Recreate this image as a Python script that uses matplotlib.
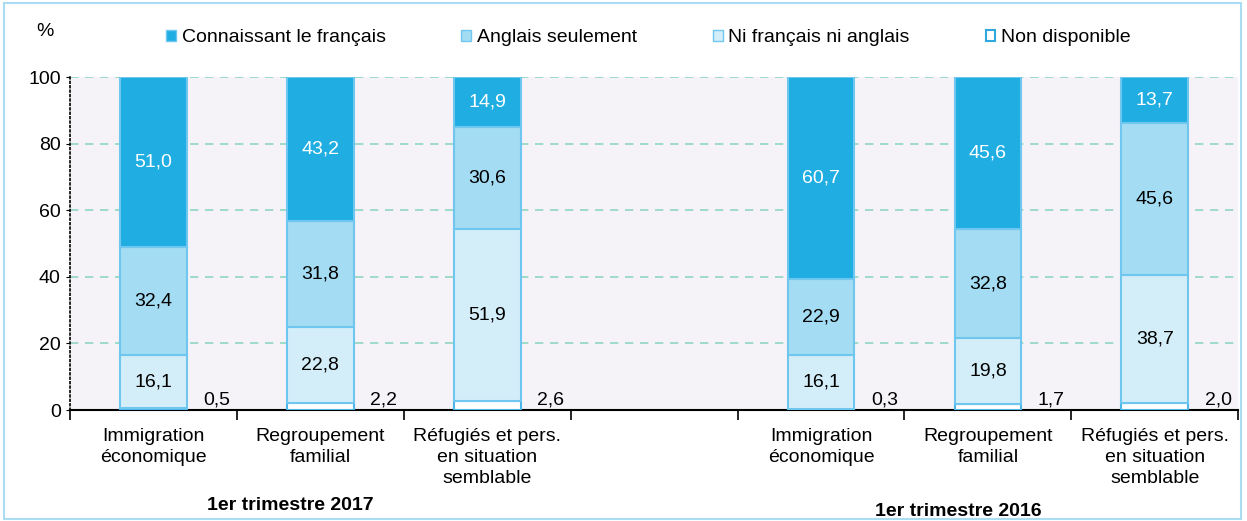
import matplotlib.pyplot as plt
from matplotlib.patches import Patch
import numpy as np

plt.rcParams['font.family'] = ['Liberation Sans', 'DejaVu Sans']

categories = ['Immigration\néconomique', 'Regroupement\nfamilial', 'Réfugiés et pers.\nen situation\nsemblable',
              '', 'Immigration\néconomique', 'Regroupement\nfamilial', 'Réfugiés et pers.\nen situation\nsemblable']
series = ['Connaissant le français', 'Anglais seulement', 'Ni français ni anglais', 'Non disponible']
non_dispo = [0.5, 2.2, 2.6, 0, 0.3, 1.7, 2.0]
ni_fr_ni_ang = [16.1, 22.8, 51.9, 0, 16.1, 19.8, 38.7]
anglais = [32.4, 31.8, 30.6, 0, 22.9, 32.8, 45.6]
francais = [51.0, 43.2, 14.9, 0, 60.7, 45.6, 13.7]
groups = ['1er trimestre 2017', '1er trimestre 2016']

c_fr = '#1FADE2'
c_ang = '#A4DCF3'
c_ni = '#D4EEF9'
c_nd = '#FFFFFF'
edge = '#6FC6EE'
fs = 14

fig = plt.figure(figsize=(12.47, 5.21), dpi=100)
ax = fig.add_axes([0.056, 0.213, 0.937, 0.639])
ax.set_facecolor('#F5F3F8')

x = np.arange(len(categories))
w = 0.4
has = [i for i in x if categories[i] != '']
nd = np.array(non_dispo); ni = np.array(ni_fr_ni_ang); an = np.array(anglais); fr = np.array(francais)
b0 = np.zeros(len(x))
ax.bar(x[has], nd[has], w, bottom=b0[has], color=c_nd, edgecolor='#4DB6E8', linewidth=1.5, zorder=3)
ax.bar(x[has], ni[has], w, bottom=nd[has], color=c_ni, edgecolor=edge, linewidth=1.5, zorder=3)
ax.bar(x[has], an[has], w, bottom=(nd + ni)[has], color=c_ang, edgecolor=edge, linewidth=1.5, zorder=3)
ax.bar(x[has], fr[has], w, bottom=(nd + ni + an)[has], color=c_fr, edgecolor=edge, linewidth=1.5, zorder=3)

def fmt(v):
    return ('%.1f' % v).replace('.', ',')

for i in has:
    ax.text(x[i], nd[i] + ni[i] / 2, fmt(ni[i]), ha='center', va='center', fontsize=fs, zorder=4)
    ax.text(x[i], nd[i] + ni[i] + an[i] / 2, fmt(an[i]), ha='center', va='center', fontsize=fs, zorder=4)
    ax.text(x[i], nd[i] + ni[i] + an[i] + fr[i] / 2, fmt(fr[i]), ha='center', va='center', fontsize=fs,
            color='white', zorder=4)
    ax.text(x[i] + 0.38, 0.6, fmt(nd[i]), ha='center', va='bottom', fontsize=fs, zorder=4)

ax.set_xlim(-0.5, len(x) - 0.5)
ax.set_ylim(0, 100)
ax.set_yticks(range(0, 101, 20))
ax.tick_params(axis='y', labelsize=fs, length=3, direction='out')
for yv in range(20, 101, 20):
    ax.axhline(yv, color='#8ED6C4', linestyle=(0, (5, 4)), linewidth=1.2, zorder=1)

ax.set_xticks(x)
ax.set_xticklabels(categories, fontsize=fs, linespacing=1.3)
ax.set_xticks(np.arange(-0.5, len(x)), minor=True)
ax.tick_params(axis='x', which='major', length=0, pad=13)
ax.tick_params(axis='x', which='minor', length=7, width=1.2, direction='out')

for s in ['top', 'right']:
    ax.spines[s].set_visible(False)
ax.spines['left'].set_linestyle(':')
ax.spines['left'].set_linewidth(1.2)
ax.spines['bottom'].set_linewidth(1.5)

fig.text(45 / 1247, 1 - 32 / 521, '%', fontsize=fs, ha='center', va='center')

fig.text(290 / 1247, 1 - 506 / 521, groups[0], ha='center', va='center', fontsize=fs, fontweight='bold')
fig.text(958 / 1247, 1 - 512 / 521, groups[1], ha='center', va='center', fontsize=fs, fontweight='bold')

handles = [Patch(facecolor=c_fr, edgecolor=edge), Patch(facecolor=c_ang, edgecolor=edge),
           Patch(facecolor=c_ni, edgecolor=edge), Patch(facecolor=c_nd, edgecolor='#2FA8E0', linewidth=1.5)]
fig.legend(handles, series, loc='center', bbox_to_anchor=(0.52, 1 - 38 / 521), ncol=4, frameon=False,
           fontsize=fs, handlelength=0.5, handleheight=0.5, handletextpad=0.3, columnspacing=3.9)

fig.add_artist(plt.Rectangle((0.003, 0.003), 0.992, 0.992, transform=fig.transFigure, fill=False,
                             edgecolor='#A9DDF1', linewidth=1.5))

fig.savefig('out.png', dpi=100)
